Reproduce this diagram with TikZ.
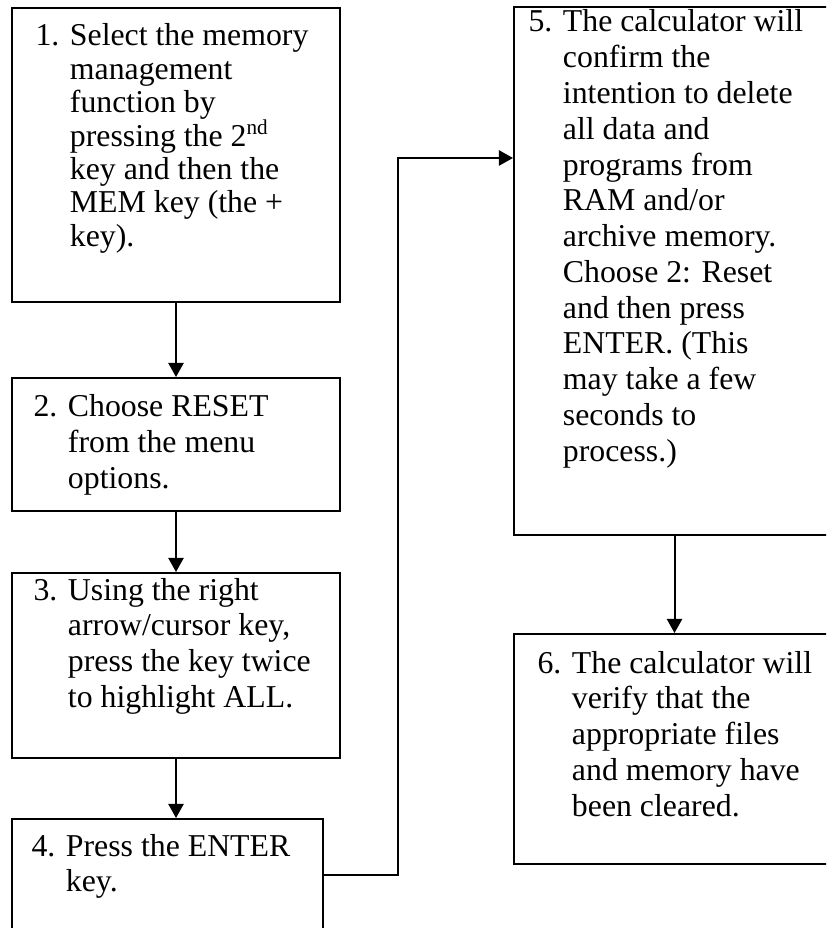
\documentclass[tikz,border=0pt]{standalone}
\usepackage{fontspec}
\setmainfont{Liberation Serif}
\usetikzlibrary{arrows.meta,fit}

% number and hanging text of one step
\newcommand{\stepitem}[2]{\makebox[13pt][l]{#1}\parbox[t]{8cm}{\raggedright #2}}

\begin{document}
\begin{tikzpicture}[x=0.3774pt, y=-0.3774pt,
  >={Triangle[length=5.3pt,width=5.7pt]},
  stepbox/.style={draw, line width=0.75pt, inner sep=0pt},
  steptext/.style={anchor=base west, inner sep=0pt, font=\fontsize{12pt}{13.5pt}\selectfont},
  flow/.style={->, line width=0.75pt}]
  \useasboundingbox (0,0) rectangle (826,928);
  \clip (0,0) rectangle (826,928);

  % boxes
  \node[stepbox, fit={(12,8) (340,302)}] (box1) {};
  \node[stepbox, fit={(12,378) (340,511)}] (box2) {};
  \node[stepbox, fit={(12,573) (340,758)}] (box3) {};
  \node[stepbox, fit={(12,819) (323,931)}] (box4) {};
  \node[stepbox, fit={(514,7) (835,535)}] (box5) {};
  \node[stepbox, fit={(514,634) (835,864)}] (box6) {};

  % texts
  \node[steptext, font=\fontsize{12pt}{12.6pt}\selectfont] (txt1) at (35,46) {\stepitem{1.}{Select the memory\\ management\\ function by\\ pressing the 2\textsuperscript{nd}\\ key and then the\\ MEM key (the +\\ key).}};
  \node[steptext] (txt2) at (33,417) {\stepitem{2.}{Choose RESET\\ from the menu\\ options.}};
  \node[steptext] (txt3) at (33,600) {\stepitem{3.}{Using the right\\ arrow/cursor key,\\ press the key twice\\ to highlight ALL.}};
  \node[steptext] (txt4) at (31,856) {\stepitem{4.}{Press the ENTER\\ key.}};
  \node[steptext] (txt5) at (528,32) {\stepitem{5.}{The calculator will\\ confirm the\\ intention to delete\\ all data and\\ programs from\\ RAM and/or\\ archive memory.\\ Choose 2: Reset\\ and then press\\ ENTER. (This\\ may take a few\\ seconds to\\ process.)}};
  \node[steptext] (txt6) at (537,673) {\stepitem{6.}{The calculator will\\ verify that the\\ appropriate files\\ and memory have\\ been cleared.}};

  % connectors
  \coordinate (bend) at (398,158);
  \draw[flow] (box1.south) -- (box2.north);
  \draw[flow] (box2.south) -- (box3.north);
  \draw[flow] (box3.south) -- (box3.south |- box4.north);
  \draw[flow] (box4.east) -| (bend) -- (bend -| box5.west);
  \draw[flow] (box5.south) -- (box6.north);
\end{tikzpicture}
\end{document}
